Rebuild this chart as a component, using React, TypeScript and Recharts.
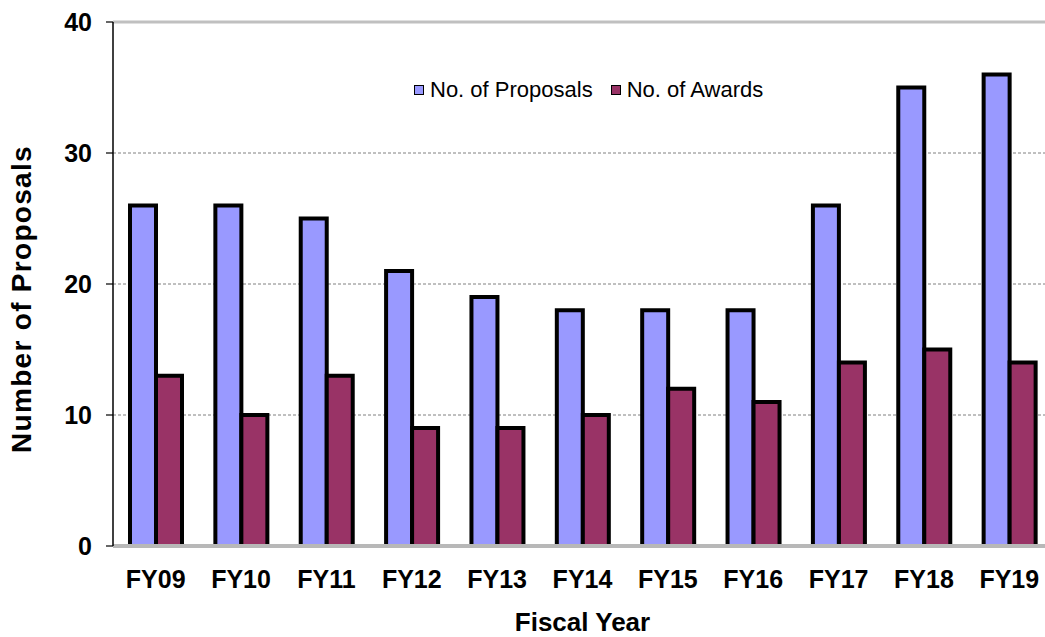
import React from 'react';
import {
  BarChart,
  Bar,
  XAxis,
  YAxis,
  CartesianGrid,
  ReferenceLine,
  Legend,
} from 'recharts';

const years = ['FY09', 'FY10', 'FY11', 'FY12', 'FY13', 'FY14', 'FY15', 'FY16', 'FY17', 'FY18', 'FY19'];
const proposals = [26, 26, 25, 21, 19, 18, 18, 18, 26, 35, 36];
const awards = [13, 10, 13, 9, 9, 10, 12, 11, 14, 15, 14];
const yTicks = [0, 10, 20, 30, 40];
const edgeTicks = [0, 2, 4, 6, 8, 10];

const data = years.map((year, i) => ({
  year,
  proposals: proposals[i],
  awards: awards[i],
}));

const FONT = '"Liberation Sans", Arial, sans-serif';
const BLUE = '#9999FF';
const PLUM = '#993366';

function LegendBox() {
  const items = [
    { name: 'No. of Proposals', color: BLUE },
    { name: 'No. of Awards', color: PLUM },
  ];
  return (
    <div style={{ display: 'flex', fontFamily: FONT, fontSize: 22, color: '#000', whiteSpace: 'nowrap' }}>
      {items.map((it) => (
        <div key={it.name} style={{ display: 'flex', alignItems: 'center', marginRight: 18 }}>
          <span
            style={{
              display: 'inline-block',
              width: 8,
              height: 8,
              background: it.color,
              border: '1.5px solid #000',
              marginRight: 6,
            }}
          />
          <span>{it.name}</span>
        </div>
      ))}
    </div>
  );
}

export default function App() {
  return (
    <div style={{ position: 'absolute', left: 0, top: 0, width: 1045, height: 637, overflow: 'hidden', background: '#fff' }}>
      <BarChart
        width={1060}
        height={637}
        data={data}
        margin={{ top: 22, right: 8, left: 0, bottom: 0 }}
        barCategoryGap="20%"
        barGap={0}
      >
        <CartesianGrid vertical={false} stroke="#808080" strokeDasharray="3 2" />
        <XAxis
          xAxisId="edge"
          type="number"
          domain={[0, 11]}
          ticks={edgeTicks}
          height={0}
          tick={false}
          tickSize={7}
          axisLine={{ stroke: '#000', strokeWidth: 1.5 }}
          tickLine={{ stroke: '#000', strokeWidth: 1.2 }}
        />
        <XAxis
          dataKey="year"
          height={91}
          tickLine={false}
          tickSize={0}
          tickMargin={24}
          axisLine={{ stroke: '#b8b8b8', strokeWidth: 4 }}
          tick={{ fontSize: 25, fontWeight: 'bold', fill: '#000', fontFamily: FONT }}
          interval={0}
          label={{
            value: 'Fiscal Year',
            position: 'insideBottom',
            offset: 6,
            style: { fontSize: 26, fontWeight: 'bold', fill: '#000', fontFamily: FONT },
          }}
        />
        <YAxis
          width={113}
          domain={[0, 40]}
          ticks={yTicks}
          tickSize={7}
          tickMargin={14}
          axisLine={{ stroke: '#000', strokeWidth: 1.5 }}
          tickLine={{ stroke: '#000', strokeWidth: 1.2 }}
          tick={{ fontSize: 25, fontWeight: 'bold', fill: '#000', fontFamily: FONT }}
          label={{
            content: () => (
              <text
                transform="translate(31,299) rotate(-90)"
                textAnchor="middle"
                style={{ fontSize: 28, fontWeight: 'bold', fill: '#000', fontFamily: FONT, letterSpacing: 1.3 }}
              >
                Number of Proposals
              </text>
            ),
          }}
        />
        <ReferenceLine y={40} stroke="#c0c0c0" strokeWidth={3} />
        <Legend
          layout="horizontal"
          verticalAlign="middle"
          content={() => <LegendBox />}
          wrapperStyle={{ top: 77, left: 414, width: 'auto' }}
        />
        <Bar
          dataKey="proposals"
          name="No. of Proposals"
          fill={BLUE}
          stroke="#000"
          strokeWidth={4}
          barSize={26}
          isAnimationActive={false}
        />
        <Bar
          dataKey="awards"
          name="No. of Awards"
          fill={PLUM}
          stroke="#000"
          strokeWidth={4}
          barSize={26}
          isAnimationActive={false}
        />
      </BarChart>
    </div>
  );
}
